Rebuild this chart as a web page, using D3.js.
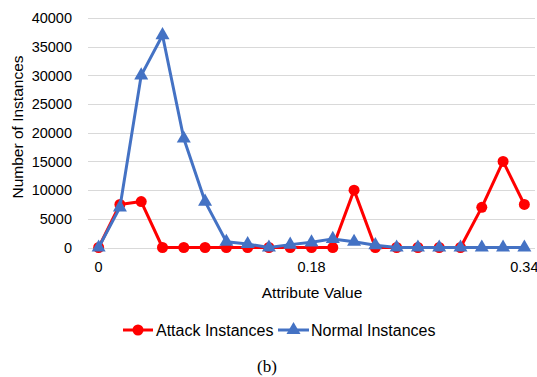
<!DOCTYPE html>
<html lang="en">
  <head>
    <meta charset="UTF-8" />
    <title>Attribute distribution</title>
    <style type="text/css">
      body {
        margin: 0;
        background: #fff;
      }
      text {
        font-family: 'Liberation Sans', Arial, sans-serif;
        fill: #000;
      }
    </style>
    <script src="https://d3js.org/d3.v7.min.js"></script>
  </head>
  <body>
    <div class="d3Chart"></div>
    <script type="text/javascript">
      // categories (attribute values), only every 10th one is labelled
      var categories = ['0', '0.018', '0.036', '0.054', '0.072', '0.09', '0.108', '0.126', '0.144', '0.162', '0.18',
        '0.196', '0.212', '0.228', '0.244', '0.26', '0.276', '0.292', '0.308', '0.324', '0.34']
      var shownLabels = ['0', '0.18', '0.34']
      var attack = [0, 7500, 8000, 0, 0, 0, 0, 0, 0, 0, 0, 0, 10000, 0, 0, 0, 0, 0, 7000, 15000, 7500]
      var normal = [0, 7000, 30000, 37000, 19000, 8000, 1000, 600, 0, 500, 900, 1500, 1000, 400, 0, 0, 0, 0, 0, 0, 0]
      var yTicks = [0, 5000, 10000, 15000, 20000, 25000, 30000, 35000, 40000]

      var width = 537
      var height = 377
      var plotLeft = 88
      var plotRight = 535
      var plotTop = 18
      var plotBottom = 247.5

      var svg = d3.select('.d3Chart').append('svg').attr('width', width).attr('height', height)

      var x = d3.scaleBand().domain(categories).range([plotLeft, plotRight])
      var y = d3.scaleLinear().domain([0, 40000]).range([plotBottom, plotTop])
      var cx = (d) => x(d) + x.bandwidth() / 2

      // grid
      svg
        .append('g')
        .selectAll('line')
        .data(yTicks)
        .enter()
        .append('line')
        .attr('x1', plotLeft)
        .attr('x2', plotRight)
        .attr('y1', (d) => Math.round(y(d)) + 0.5)
        .attr('y2', (d) => Math.round(y(d)) + 0.5)
        .attr('stroke', '#d9d9d9')
        .attr('stroke-width', 1)

      // y axis labels
      var yAxis = svg
        .append('g')
        .attr('transform', `translate(${plotLeft}, 0)`)
        .call(d3.axisLeft(y).tickValues(yTicks).tickSize(0).tickPadding(16).tickFormat(d3.format('d')))
      yAxis.select('.domain').remove()
      yAxis.selectAll('text').attr('font-size', 14.5).attr('font-family', null)

      // x axis labels
      var xAxis = svg
        .append('g')
        .attr('transform', `translate(0, ${plotBottom})`)
        .call(d3.axisBottom(x).tickValues(shownLabels).tickSize(0).tickPadding(14))
      xAxis.select('.domain').remove()
      xAxis.selectAll('text').attr('font-size', 14.5).attr('font-family', null)

      // axis titles
      svg
        .append('text')
        .attr('x', 312)
        .attr('y', 298)
        .attr('text-anchor', 'middle')
        .attr('font-size', 15.5)
        .text('Attribute Value')
      svg
        .append('text')
        .attr('transform', 'translate(22.5, 127) rotate(-90)')
        .attr('text-anchor', 'middle')
        .attr('font-size', 15.5)
        .text('Number of Instances')

      var line = d3
        .line()
        .x((d, i) => cx(categories[i]))
        .y((d) => y(d))

      var triangle = d3.symbol().type(d3.symbolTriangle).size(85)

      // attack series
      svg
        .append('path')
        .datum(attack)
        .attr('fill', 'none')
        .attr('stroke', '#ff0000')
        .attr('stroke-width', 3)
        .attr('stroke-linejoin', 'round')
        .attr('d', line)
      svg
        .append('g')
        .selectAll('circle')
        .data(attack)
        .enter()
        .append('circle')
        .attr('cx', (d, i) => cx(categories[i]))
        .attr('cy', (d) => y(d))
        .attr('r', 5.5)
        .attr('fill', '#ff0000')

      // normal series, on top
      svg
        .append('path')
        .datum(normal)
        .attr('fill', 'none')
        .attr('stroke', '#4472c4')
        .attr('stroke-width', 3)
        .attr('stroke-linejoin', 'round')
        .attr('d', line)
      svg
        .append('g')
        .selectAll('path')
        .data(normal)
        .enter()
        .append('path')
        .attr('d', triangle)
        .attr('transform', (d, i) => `translate(${cx(categories[i])}, ${y(d)})`)
        .attr('fill', '#4472c4')

      // legend
      var legend = svg.append('g').attr('transform', 'translate(0, 330)')
      legend.append('line').attr('x1', 123).attr('x2', 153).attr('stroke', '#ff0000').attr('stroke-width', 3)
      legend.append('circle').attr('cx', 138).attr('r', 5.5).attr('fill', '#ff0000')
      legend.append('text').attr('x', 156).attr('dy', '0.35em').attr('font-size', 16).text('Attack Instances')
      legend.append('line').attr('x1', 278).attr('x2', 309).attr('stroke', '#4472c4').attr('stroke-width', 3)
      legend.append('path').attr('d', triangle).attr('transform', 'translate(293.5, 0)').attr('fill', '#4472c4')
      legend.append('text').attr('x', 311).attr('dy', '0.35em').attr('font-size', 16).text('Normal Instances')

      svg
        .append('text')
        .attr('x', 267)
        .attr('y', 372)
        .attr('text-anchor', 'middle')
        .style('font-family', 'Liberation Serif, serif')
        .attr('font-size', 17)
        .text('(b)')
    </script>
  </body>
</html>
